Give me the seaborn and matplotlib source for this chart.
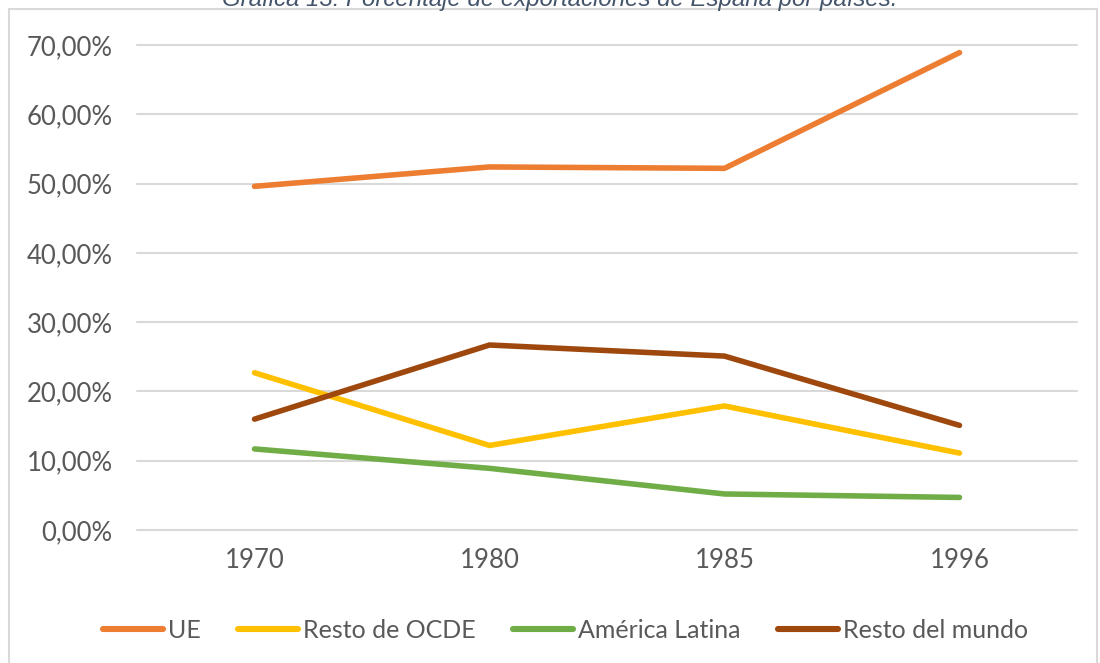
import matplotlib
matplotlib.use("Agg")
import matplotlib.pyplot as plt
import matplotlib.patches as mpatches
from matplotlib.lines import Line2D
from matplotlib.ticker import FuncFormatter
import seaborn as sns
import pandas as pd

years = ["1970", "1980", "1985", "1996"]
series_names = ["UE", "Resto de OCDE", "América Latina", "Resto del mundo"]
ue = [0.496, 0.524, 0.522, 0.689]
resto_ocde = [0.227, 0.122, 0.179, 0.111]
america_latina = [0.117, 0.089, 0.052, 0.047]
resto_mundo = [0.160, 0.267, 0.251, 0.151]
colors = ["#ED7D31", "#FFC000", "#70AD47", "#9E480E"]
title = "Gráfica 13: Porcentaje de exportaciones de España por países."

values = [ue, resto_ocde, america_latina, resto_mundo]
rows = []
for name, vals in zip(series_names, values):
    for y, v in zip(years, vals):
        rows.append({"year": y, "value": v, "serie": name})
df = pd.DataFrame(rows)

sns.set_theme(style="white")
plt.rcParams["font.family"] = ["Lato", "DejaVu Sans"]

W, H = 1100, 663
fig = plt.figure(figsize=(W / 100, H / 100), dpi=100)
ax = fig.add_axes([137 / W, 1 - 530 / H, (1077 - 137) / W, (530 - 45) / H])

palette = dict(zip(series_names, colors))
sns.lineplot(data=df, x="year", y="value", hue="serie", hue_order=series_names,
             palette=palette, linewidth=4.0, ax=ax, legend=False, sort=False,
             solid_capstyle="round", solid_joinstyle="round")

ax.set_xlim(-0.5, 3.5)
ax.set_ylim(0, 0.70)
ax.set_yticks([i / 10 for i in range(8)])
ax.yaxis.set_major_formatter(FuncFormatter(lambda v, p: f"{v*100:.2f}%".replace(".", ",")))
ax.grid(axis="y", color="#D9D9D9", linewidth=1.5)
ax.grid(axis="x", visible=False)
ax.set_axisbelow(True)
for gl in ax.get_ygridlines():
    gl.set_clip_on(False)
for line in ax.get_lines():
    line.set_clip_on(False)
for s in ax.spines.values():
    s.set_visible(False)
ax.set_xlabel("")
ax.set_ylabel("")
ax.tick_params(axis="both", length=0, labelsize=18.5, colors="#595959")
ax.tick_params(axis="y", pad=17.5)
ax.tick_params(axis="x", pad=13)

handles = [Line2D([0], [0], color=c, linewidth=4.4, solid_capstyle="round") for c in colors]
fig.legend(handles, series_names, loc="center", bbox_to_anchor=(0.514, 1 - 630 / H),
           ncol=4, frameon=False, fontsize=18, labelcolor="#595959",
           handlelength=2.4, handletextpad=0.2, columnspacing=1.5)

border = mpatches.Rectangle((9 / W, -0.02), (1097 - 9) / W, 1 - 9 / H + 0.02,
                            transform=fig.transFigure, fill=False,
                            edgecolor="#D9D9D9", linewidth=1.5)
fig.patches.append(border)

fig.text(0.509, 1 - 6 / H, title, ha="center", va="baseline", fontsize=17.3,
         style="italic", color="#44546A", family=["Liberation Sans", "DejaVu Sans"])

fig.savefig("out.png", dpi=100)
